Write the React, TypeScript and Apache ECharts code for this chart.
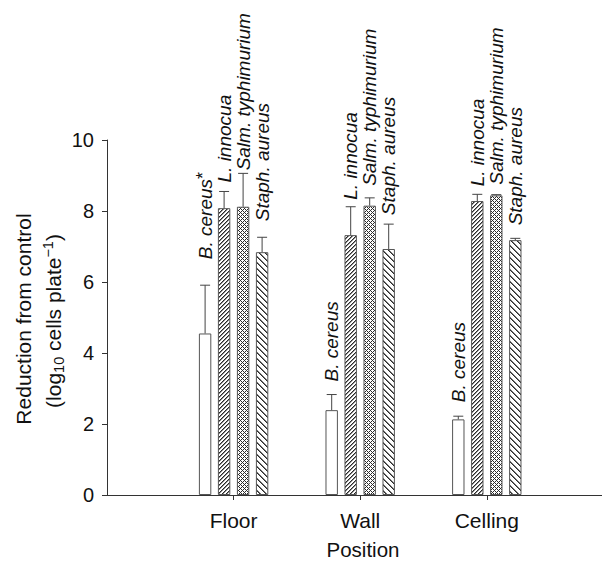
import React, { useEffect, useRef } from 'react';
import * as echarts from 'echarts';

// ---- data ----
const CATEGORIES = ['Floor', 'Wall', 'Celling'];
const CATEGORY_POS = [1, 2, 3];
const SPECIES = ['B. cereus', 'L. innocua', 'Salm. typhimurium', 'Staph. aureus'];
const B_CEREUS = [4.55, 2.39, 2.13];
const B_CEREUS_ERR = [1.36, 0.44, 0.09];
const L_INNOCUA = [8.08, 7.32, 8.28];
const L_INNOCUA_ERR = [0.47, 0.8, 0.19];
const SALM_TYPHIMURIUM = [8.12, 8.15, 8.44];
const SALM_TYPHIMURIUM_ERR = [0.94, 0.22, 0.02];
const STAPH_AUREUS = [6.84, 6.93, 7.18];
const STAPH_AUREUS_ERR = [0.42, 0.7, 0.05];
const B_CEREUS_NOTE = ['*', '', ''];
const Y_TICKS = [0, 2, 4, 6, 8, 10];

const VALUES = [B_CEREUS, L_INNOCUA, SALM_TYPHIMURIUM, STAPH_AUREUS];
const ERRORS = [B_CEREUS_ERR, L_INNOCUA_ERR, SALM_TYPHIMURIUM_ERR, STAPH_AUREUS_ERR];

// ---- styles ----
const FONT = '"Liberation Sans", Arial, Helvetica, sans-serif';
const TEXT = '#111';
const AXIS = '#333';
const BAR_W = 12.4;
const BAR_STEP = 19;
const CAP_HALF = 5;
// pixel gap between error-bar top and start of the vertical species label [category][species]
const LABEL_GAP = [
  [26, 9, 3, 16],
  [13, 7, 12, 9],
  [14, 8, 10, 13],
];

function makeTile(size: number, fn: (x: number, y: number) => string | null) {
  const c = document.createElement('canvas');
  c.width = size;
  c.height = size;
  const ctx = c.getContext('2d')!;
  ctx.fillStyle = '#ffffff';
  ctx.fillRect(0, 0, size, size);
  for (let y = 0; y < size; y++) {
    for (let x = 0; x < size; x++) {
      const col = fn(x, y);
      if (col) {
        ctx.fillStyle = col;
        ctx.fillRect(x, y, 1, 1);
      }
    }
  }
  return { image: c, repeat: 'repeat', imageWidth: size, imageHeight: size } as any;
}

export default function App() {
  const ref = useRef<HTMLDivElement>(null);
  useEffect(() => {
    if (!ref.current) return;
    const chart = echarts.init(ref.current, null, { renderer: 'svg' });

    const fills: any[] = [
      '#ffffff',
      // "/" dense diagonal
      makeTile(4, (x, y) => {
        const k = (x + y) % 4;
        return k === 3 ? '#2a2a2a' : k === 0 ? '#8a8a8a' : null;
      }),
      // dense crosshatch
      makeTile(4, (x, y) => {
        const a = (x + y) % 4 === 0;
        const b = (x - y + 4) % 4 === 0;
        return a || b ? '#2a2a2a' : null;
      }),
      // "\" wider diagonal
      makeTile(6, (x, y) => {
        const k = (x - y + 6) % 6;
        return k === 0 ? '#2a2a2a' : k === 1 ? '#777777' : null;
      }),
    ];

    const barSeries = SPECIES.map((name, s) => ({
      type: 'bar',
      name,
      data: CATEGORY_POS.map((p, i) => [p, VALUES[s][i]]),
      barWidth: BAR_W,
      barGap: ((BAR_STEP - BAR_W) / BAR_W) * 100 + '%',
      itemStyle: { color: fills[s], borderColor: '#555', borderWidth: 1 },
      z: 2,
    }));

    const errSeries = SPECIES.map((name, s) => ({
      type: 'custom',
      name: name + ' err',
      data: CATEGORY_POS.map((p, i) => [p, VALUES[s][i], ERRORS[s][i]]),
      encode: { x: 0, y: 1 },
      clip: false,
      z: 3,
      renderItem: (params: any, api: any) => {
        const i = params.dataIndex;
        const cat = api.value(0);
        const v = api.value(1);
        const e = api.value(2);
        const base = api.coord([cat, v]);
        const top = api.coord([cat, v + e]);
        const x = base[0] + (s - 1.5) * BAR_STEP;
        const note = s === 0 ? B_CEREUS_NOTE[i] : '';
        const labelY = top[1] - LABEL_GAP[i][s];
        return {
          type: 'group',
          children: [
            {
              type: 'line',
              shape: { x1: x, y1: base[1], x2: x, y2: top[1] },
              style: { stroke: '#444', lineWidth: 1 },
            },
            {
              type: 'line',
              shape: { x1: x - CAP_HALF, y1: top[1], x2: x + CAP_HALF, y2: top[1] },
              style: { stroke: '#444', lineWidth: 1 },
            },
            {
              type: 'text',
              x: x,
              y: labelY,
              rotation: Math.PI / 2,
              style: {
                text: note ? `{n|${SPECIES[s]}}{s|${note}}` : `{n|${SPECIES[s]}}`,
                align: 'left',
                verticalAlign: 'middle',
                fill: TEXT,
                rich: {
                  n: { fontFamily: FONT, fontSize: 19, fontStyle: 'italic', fill: TEXT, lineHeight: 22 },
                  s: { fontFamily: FONT, fontSize: 18, fill: TEXT, lineHeight: 14, verticalAlign: 'top' },
                },
              },
            },
          ],
        };
      },
    }));

    chart.setOption({
      animation: false,
      backgroundColor: '#ffffff',
      grid: { left: 107, right: 0, top: 140, bottom: 66, containLabel: false, outerBoundsMode: 'none' },
      xAxis: {
        type: 'value',
        min: 0,
        max: 3.91,
        interval: 1,
        splitLine: { show: false },
        axisLine: { show: true, onZero: false, lineStyle: { color: AXIS, width: 1 } },
        axisTick: { show: true, length: 5, customValues: CATEGORY_POS, lineStyle: { color: AXIS } },
        axisLabel: {
          customValues: CATEGORY_POS,
          formatter: (v: number) => CATEGORIES[CATEGORY_POS.indexOf(v)] ?? '',
          fontFamily: FONT,
          fontSize: 21,
          color: TEXT,
          margin: 15,
        },
      },
      yAxis: {
        type: 'value',
        min: Y_TICKS[0],
        max: Y_TICKS[Y_TICKS.length - 1],
        interval: Y_TICKS[1] - Y_TICKS[0],
        splitLine: { show: false },
        axisLine: { show: true, lineStyle: { color: AXIS, width: 1 } },
        axisTick: { show: true, length: 5, lineStyle: { color: AXIS } },
        axisLabel: { fontFamily: FONT, fontSize: 20, color: TEXT, margin: 13 },
      },
      graphic: [
        {
          type: 'text',
          x: 23,
          y: 319,
          rotation: Math.PI / 2,
          style: {
            text: 'Reduction from control',
            font: `21px ${FONT}`,
            fill: TEXT,
            align: 'center',
            verticalAlign: 'middle',
          },
        },
        {
          type: 'text',
          x: 53,
          y: 321,
          rotation: Math.PI / 2,
          style: {
            text: '{a|(log}{sub|10}{a| cells plate}{sup|\u22121}{a|)}',
            align: 'center',
            verticalAlign: 'middle',
            fill: TEXT,
            rich: {
              a: { fontFamily: FONT, fontSize: 21, fill: TEXT, lineHeight: 26 },
              sub: { fontFamily: FONT, fontSize: 14.5, fill: TEXT, lineHeight: 14, verticalAlign: 'bottom' },
              sup: { fontFamily: FONT, fontSize: 14.5, fill: TEXT, lineHeight: 14, verticalAlign: 'top' },
            },
          },
        },
        {
          type: 'text',
          x: 363,
          y: 549,
          style: {
            text: 'Position',
            font: `20.5px ${FONT}`,
            fill: TEXT,
            align: 'center',
            verticalAlign: 'middle',
          },
        },
      ],
      series: [...barSeries, ...errSeries],
    });

    return () => chart.dispose();
  }, []);

  return (
    <div
      ref={ref}
      style={{ position: 'absolute', left: 0, top: 0, width: 602, height: 561, background: '#fff' }}
    />
  );
}
